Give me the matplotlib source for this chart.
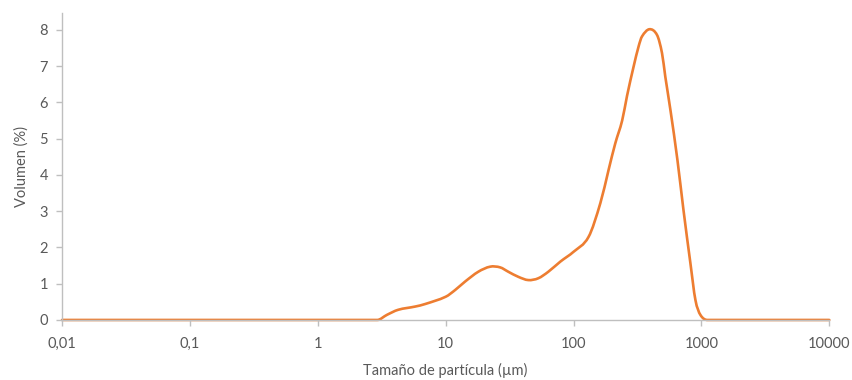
import matplotlib
matplotlib.use("Agg")
import matplotlib.pyplot as plt
import numpy as np
from matplotlib.path import Path
from matplotlib.patches import PathPatch
from matplotlib.ticker import FixedLocator, FixedFormatter, NullLocator

plt.rcParams['font.family'] = ['Lato', 'DejaVu Sans']

# particle size distribution (laser diffraction), volume %
size_um = [0.01, 1.0, 2.92, 3.47, 4.25, 5.78, 6.92, 10.0, 11.9, 14.2, 18.0,
           22.3, 26.7, 30.9, 37.0, 44.3, 53.0, 63.5, 78.9, 100.0, 131.0,
           162.0, 188.0, 212.0, 240.0, 262.0, 295.0, 323.0, 343.0, 392.0,
           450.0, 492.0, 522.0, 572.0, 649.0, 723.0, 820.0, 898.0, 982.0,
           1115.0, 10000.0]
volume_pct = [0.0, 0.0, 0.0, 0.14, 0.28, 0.37, 0.44, 0.64, 0.83, 1.06, 1.33,
              1.47, 1.45, 1.33, 1.19, 1.10, 1.15, 1.33, 1.61, 1.88, 2.29,
              3.22, 4.14, 4.87, 5.50, 6.18, 6.99, 7.55, 7.82, 8.02,
              7.86, 7.36, 6.71, 5.80, 4.42, 3.05, 1.57, 0.55, 0.14,
              0.0, 0.0]

x_ticks = [0.01, 0.1, 1, 10, 100, 1000, 10000]
x_tick_labels = ["0,01", "0,1", "1", "10", "100", "1000", "10000"]
y_ticks = [0, 1, 2, 3, 4, 5, 6, 7, 8]

text_gray = "#595959"
axis_gray = "#BFBFBF"


def smooth_path(xs, ys):
    # smoothed line as cubic Bezier segments through the points,
    # tangents from central differences in log10(x) space (flat where
    # the line meets a zero baseline)
    lx = np.log10(xs)
    y = np.asarray(ys, dtype=float)
    n = len(lx)
    h = np.diff(lx)
    d = np.diff(y) / h
    m = np.zeros(n)
    for k in range(1, n - 1):
        if d[k - 1] == 0 or d[k] == 0:
            continue
        m[k] = (y[k + 1] - y[k - 1]) / (lx[k + 1] - lx[k - 1])
    verts = [(xs[0], y[0])]
    codes = [Path.MOVETO]
    for i in range(n - 1):
        c1 = (10 ** (lx[i] + h[i] / 3), y[i] + m[i] * h[i] / 3)
        c2 = (10 ** (lx[i + 1] - h[i] / 3), y[i + 1] - m[i + 1] * h[i] / 3)
        verts += [c1, c2, (xs[i + 1], y[i + 1])]
        codes += [Path.CURVE4] * 3
    return Path(verts, codes)


fig = plt.figure(figsize=(8.53, 3.80), dpi=100)
ax = fig.add_axes([0.0727, 0.158, 0.8995, 0.808])

ax.set_xscale("log")
ax.set_xlim(0.01, 10000)
ax.set_ylim(0, 8.47)

ax.add_patch(PathPatch(smooth_path(size_um, volume_pct), facecolor="none",
                       edgecolor="#ED7D31", linewidth=1.9,
                       joinstyle="round", capstyle="round", clip_on=False))

ax.xaxis.set_major_locator(FixedLocator(x_ticks))
ax.xaxis.set_major_formatter(FixedFormatter(x_tick_labels))
ax.xaxis.set_minor_locator(NullLocator())
ax.set_yticks(y_ticks)

for side in ("top", "right"):
    ax.spines[side].set_visible(False)
for side in ("left", "bottom"):
    ax.spines[side].set_color(axis_gray)
    ax.spines[side].set_linewidth(1.0)

ax.tick_params(axis="both", direction="out", length=4, width=1.0,
               color=axis_gray, labelcolor=text_gray, labelsize=10.5)
ax.tick_params(axis="x", pad=8)
ax.tick_params(axis="y", pad=6)

ax.set_xlabel("Tamaño de partícula (µm)", color=text_gray, fontsize=10.5,
              labelpad=9)
ax.set_ylabel("Volumen (%)", color=text_gray, fontsize=10.5, labelpad=8)

fig.savefig("out.png", dpi=100)
